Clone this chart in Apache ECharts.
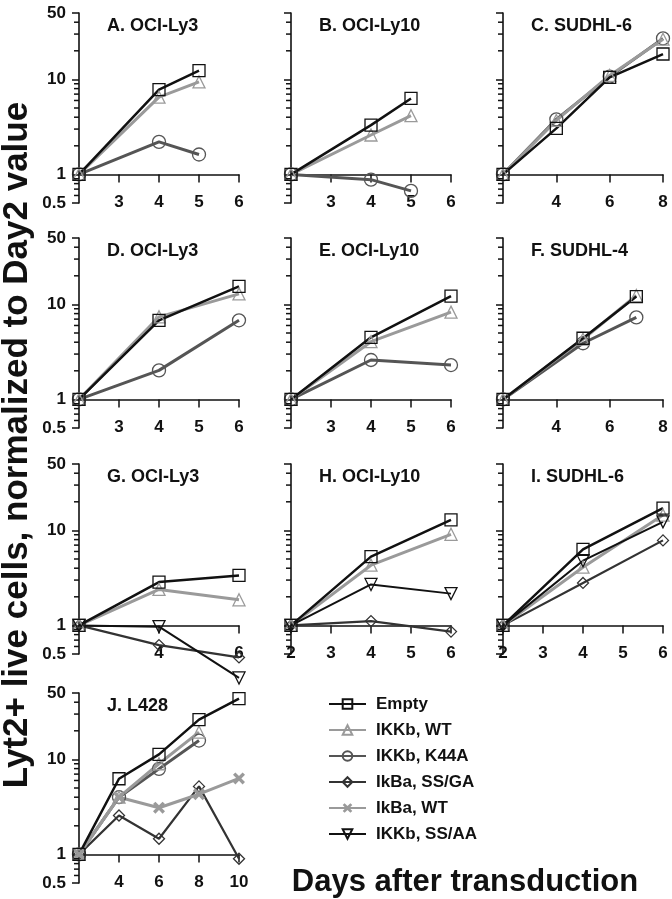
<!DOCTYPE html>
<html>
<head>
<meta charset="utf-8">
<script src="https://cdn.jsdelivr.net/npm/echarts@6/dist/echarts.min.js"></script>
<style>
html, body { margin: 0; padding: 0; background: #fff; }
#main { width: 672px; height: 899px; }
</style>
</head>
<body>
<div id="main"></div>
<script>
var seriesNames = ["Empty", "IKKb, WT", "IKKb, K44A", "IkBa, SS/GA", "IkBa, WT", "IKKb, SS/AA"];
var panelTitles = ["A. OCI-Ly3", "B. OCI-Ly10", "C. SUDHL-6", "D. OCI-Ly3", "E. OCI-Ly10",
    "F. SUDHL-4", "G. OCI-Ly3", "H. OCI-Ly10", "I. SUDHL-6", "J. L428"];
var yTicks = ["0.5", "1", "10", "50"];
var minorTicks = [0.6, 0.7, 0.8, 0.9, 2, 3, 4, 5, 6, 7, 8, 9, 20, 30, 40];

// days after transduction and values (normalized to day 2) for each panel
var daysA = [2, 4, 5];
var emptyA = [1, 7.8, 12.4];
var wtA = [1, 6.5, 9.4];
var k44aA = [1, 2.2, 1.62];

var daysB = [2, 4, 5];
var emptyB = [1, 3.3, 6.3];
var wtB = [1, 2.6, 4.15];
var k44aB = [1, 0.88, 0.67];

var daysC = [2, 4, 6, 8];
var emptyC = [1, 3.05, 10.5, 18.5];
var wtC = [1, 3.7, 11, 26.5];
var k44aC = [1, 3.8, 10.7, 27];

var daysD = [2, 4, 6];
var emptyD = [1, 6.8, 15.5];
var wtD = [1, 7.4, 12.9];
var k44aD = [1, 2.02, 6.8];

var daysE = [2, 4, 6];
var emptyE = [1, 4.5, 12.2];
var wtE = [1, 4.05, 8.3];
var k44aE = [1, 2.6, 2.3];

var daysF = [2, 5, 7];
var emptyF = [1, 4.4, 12.1];
var wtF = [1, 4.3, 12.4];
var k44aF = [1, 3.9, 7.3];

var daysG = [2, 4, 6];
var emptyG = [1, 2.86, 3.36];
var wtG = [1, 2.39, 1.86];
var ssgaG = [1, 0.62, 0.46];
var ssaaG = [1, 0.97, 0.28];

var daysH = [2, 4, 6];
var emptyH = [1, 5.3, 12.9];
var wtH = [1, 4.3, 9.1];
var ssaaH = [1, 2.7, 2.16];
var ssgaH = [1, 1.11, 0.86];

var daysI = [2, 4, 6];
var emptyI = [1, 6.3, 17.2];
var wtI = [1, 4.1, 14.5];
var ssaaI = [1, 4.8, 12.3];
var ssgaI = [1, 2.8, 7.85];

var daysJ = [2, 4, 6, 8, 10];
var emptyJ = [1, 6.26, 11.3, 26.2, 43.6];
var wtJ = [1, 4.0, 9.0, 19.4];
var k44aJ = [1, 4.0, 7.95, 15.8];
var ssgaJ = [1, 2.57, 1.46, 5.2, 0.9];
var ikbaJ = [1, 4.0, 3.1, 4.3, 6.3];

var panels = [
    { days: daysA, xMax: 6, step: 1, lines: { "Empty": emptyA, "IKKb, WT": wtA, "IKKb, K44A": k44aA } },
    { days: daysB, xMax: 6, step: 1, lines: { "Empty": emptyB, "IKKb, WT": wtB, "IKKb, K44A": k44aB } },
    { days: daysC, xMax: 8, step: 2, lines: { "Empty": emptyC, "IKKb, WT": wtC, "IKKb, K44A": k44aC } },
    { days: daysD, xMax: 6, step: 1, lines: { "Empty": emptyD, "IKKb, WT": wtD, "IKKb, K44A": k44aD } },
    { days: daysE, xMax: 6, step: 1, lines: { "Empty": emptyE, "IKKb, WT": wtE, "IKKb, K44A": k44aE } },
    { days: daysF, xMax: 8, step: 2, lines: { "Empty": emptyF, "IKKb, WT": wtF, "IKKb, K44A": k44aF } },
    { days: daysG, xMax: 6, step: 2, lines: { "Empty": emptyG, "IKKb, WT": wtG, "IkBa, SS/GA": ssgaG, "IKKb, SS/AA": ssaaG } },
    { days: daysH, xMax: 6, step: 1, showMin: true, lines: { "Empty": emptyH, "IKKb, WT": wtH, "IkBa, SS/GA": ssgaH, "IKKb, SS/AA": ssaaH } },
    { days: daysI, xMax: 6, step: 1, showMin: true, lines: { "Empty": emptyI, "IKKb, WT": wtI, "IkBa, SS/GA": ssgaI, "IKKb, SS/AA": ssaaI } },
    { days: daysJ, xMax: 10, step: 2, lines: { "Empty": emptyJ, "IKKb, WT": wtJ, "IKKb, K44A": k44aJ, "IkBa, SS/GA": ssgaJ, "IkBa, WT": ikbaJ } }
];

var font = '"Liberation Sans", Arial, Helvetica, sans-serif';
var crossPath = "path://M0,2 L2,0 L5,3 L8,0 L10,2 L7,5 L10,8 L8,10 L5,7 L2,10 L0,8 L3,5 Z";
var looks = {
    "Empty": { color: "#111", width: 2.5, symbol: "rect", size: 12 },
    "IKKb, WT": { color: "#9a9a9a", width: 3, symbol: "triangle", size: 12 },
    "IKKb, K44A": { color: "#555", width: 3, symbol: "circle", size: 13 },
    "IkBa, SS/GA": { color: "#333", width: 2.2, symbol: "diamond", size: 11 },
    "IkBa, WT": { color: "#9a9a9a", width: 3, symbol: crossPath, size: 12, filled: true },
    "IKKb, SS/AA": { color: "#111", width: 2, symbol: "triangle", size: 12, rotate: 180 }
};
var drawOrder = ["IkBa, SS/GA", "IKKb, K44A", "IkBa, WT", "IKKb, WT", "IKKb, SS/AA", "Empty"];

var colLeft = [79, 291, 503];
var rowTop = [13, 238, 464, 693];
var gw = 160, gh = 190;
var axisShift = gh * Math.log10(2) / Math.log10(100);

var grids = [], xAxes = [], yAxes = [], series = [], titles = [];

panels.forEach(function(p, i) {
    var col = i % 3, row = Math.floor(i / 3);
    grids.push({ left: colLeft[col], top: rowTop[row], width: gw, height: gh });
    titles.push({
        text: panelTitles[i],
        left: colLeft[col] + 23,
        top: rowTop[row] - 1,
        textStyle: { fontSize: 18, fontWeight: "bold", color: "#111", fontFamily: font }
    });
    xAxes.push({
        type: "value",
        gridIndex: i,
        min: 2,
        max: p.xMax,
        interval: p.step,
        position: "bottom",
        offset: -axisShift,
        axisLine: { show: true, onZero: false, lineStyle: { color: "#111", width: 1.5 } },
        axisTick: { show: true, length: 8, lineStyle: { color: "#111", width: 1.5 } },
        axisLabel: {
            show: true,
            margin: 19,
            showMinLabel: !!p.showMin,
            color: "#111",
            fontSize: 17,
            fontWeight: "bold",
            fontFamily: font
        },
        splitLine: { show: false }
    });
    yAxes.push({
        type: "log",
        logBase: 10,
        gridIndex: i,
        min: 0.5,
        max: 50,
        position: "left",
        axisLine: { show: true, onZero: false, lineStyle: { color: "#111", width: 1.6 } },
        axisTick: { show: true, length: 7, lineStyle: { color: "#111", width: 1.5 } },
        axisLabel: {
            show: col === 0,
            margin: 13,
            color: "#111",
            fontSize: 17,
            fontWeight: "bold",
            fontFamily: font,
            formatter: function(v) {
                var s = String(Math.round(v * 10) / 10);
                return yTicks.indexOf(s) >= 0 ? s : "";
            }
        },
        splitLine: { show: false }
    });

    drawOrder.forEach(function(name) {
        var vals = p.lines[name];
        if (!vals) return;
        var lk = looks[name];
        series.push({
            name: name,
            type: "line",
            xAxisIndex: i,
            yAxisIndex: i,
            clip: false,
            data: vals.map(function(v, k) { return [p.days[k], v]; }),
            symbol: lk.symbol,
            symbolSize: lk.size,
            symbolRotate: lk.rotate || 0,
            showAllSymbol: true,
            lineStyle: { color: lk.color, width: lk.width },
            itemStyle: {
                color: lk.filled ? lk.color : "rgba(255,255,255,0)",
                borderColor: lk.color,
                borderWidth: lk.filled ? 0 : 1.3
            }
        });
    });
});

var axisTitles = [{
    type: "text",
    x: 17,
    y: 445,
    rotation: Math.PI / 2,
    style: {
        text: "Lyt2+ live cells, normalized to Day2 value",
        fill: "#111",
        font: "bold 35px " + font,
        align: "center",
        verticalAlign: "middle"
    }
}, {
    type: "text",
    x: 465,
    y: 882,
    style: {
        text: "Days after transduction",
        fill: "#111",
        font: "bold 31px " + font,
        align: "center",
        verticalAlign: "middle"
    }
}];

var myChart = echarts.init(document.getElementById("main"));
var option = {
    animation: false,
    backgroundColor: "#fff",
    title: titles,
    grid: grids,
    xAxis: xAxes,
    yAxis: yAxes,
    legend: {
        data: seriesNames,
        orient: "vertical",
        left: 323,
        top: 690,
        itemWidth: 37,
        itemHeight: 12,
        itemGap: 8,
        textStyle: {
            fontSize: 17,
            fontWeight: "bold",
            color: "#111",
            fontFamily: font,
            lineHeight: 18,
            padding: [0, 0, 0, 5]
        }
    },
    graphic: axisTitles,
    series: series
};
myChart.setOption(option);

// short log ticks (0.6..0.9, 2..9, 20..40): positions come from each panel's own axes
var tickMarks = [];
panels.forEach(function(p, i) {
    minorTicks.forEach(function(v) {
        var pt = myChart.convertToPixel({ xAxisIndex: i, yAxisIndex: i }, [2, v]);
        if (!pt) return;
        tickMarks.push({
            type: "line",
            shape: { x1: pt[0] - 5, y1: pt[1], x2: pt[0], y2: pt[1] },
            style: { stroke: "#111", lineWidth: 1.5 },
            z: 10
        });
    });
});
myChart.setOption({ graphic: axisTitles.concat(tickMarks) });

window.addEventListener("resize", function() {
    myChart.resize();
});
</script>
</body>
</html>
